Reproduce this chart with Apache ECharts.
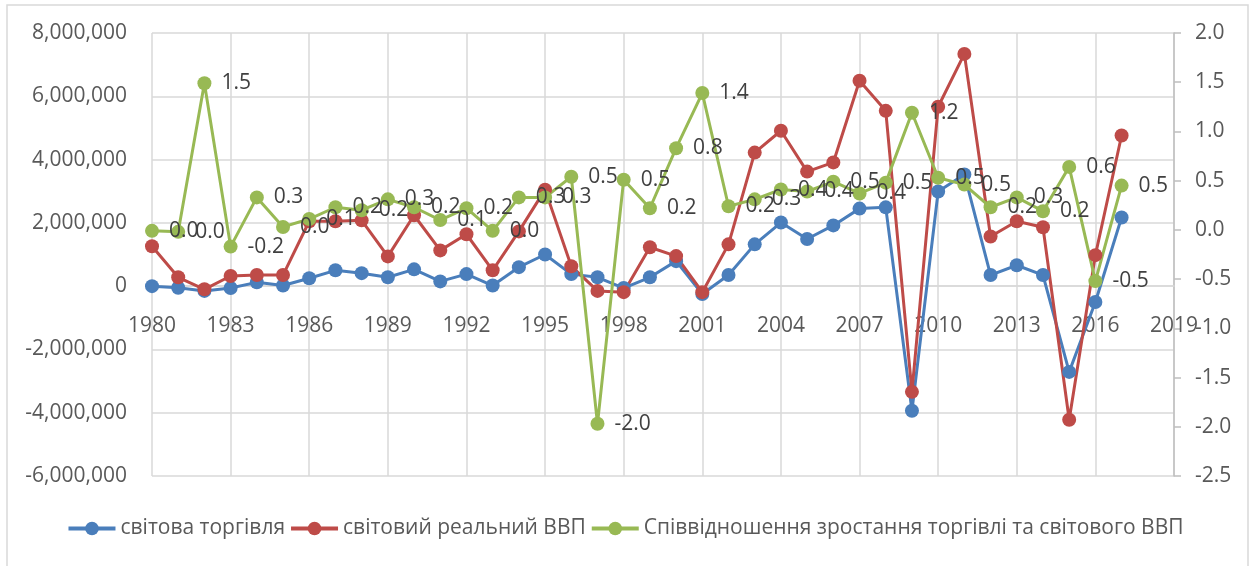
<!DOCTYPE html>
<html>
<head>
<meta charset="utf-8">
<title>chart</title>
<script src="https://cdn.jsdelivr.net/npm/echarts@6/dist/echarts.min.js"></script>
<style>
    html, body { margin: 0; padding: 0; background: #fff; }
    #chart { width: 1250px; height: 566px; }
</style>
</head>
<body>
<div id="chart"></div>
<script>
var years = [];
for (var y = 1980; y <= 2019; y++) years.push(String(y));

// світова торгівля
var trade = [0, -50000, -150000, -60000, 120000, 20000, 250000, 500000, 410000, 280000,
    530000, 150000, 380000, 20000, 600000, 1000000, 380000, 280000, -60000, 280000,
    790000, -250000, 350000, 1320000, 2010000, 1490000, 1920000, 2450000, 2490000, -3940000,
    2990000, 3530000, 350000, 660000, 350000, -2710000, -500000, 2170000];

// світовий реальний ВВП
var gdp = [1260000, 280000, -100000, 320000, 350000, 350000, 2050000, 2050000, 2080000, 940000,
    2240000, 1130000, 1640000, 500000, 1730000, 3050000, 630000, -150000, -190000, 1230000,
    950000, -190000, 1320000, 4220000, 4910000, 3620000, 3910000, 6490000, 5540000, -3340000,
    5670000, 7340000, 1570000, 2050000, 1860000, -4220000, 980000, 4760000];

// співвідношення зростання торгівлі та ВВП
var ratio = [-0.01, -0.02, 1.49, -0.17, 0.33, 0.03, 0.11, 0.23, 0.2, 0.31,
    0.23, 0.1, 0.22, -0.01, 0.33, 0.33, 0.54, -1.97, 0.51, 0.22,
    0.83, 1.39, 0.24, 0.31, 0.41, 0.39, 0.49, 0.37, 0.48, 1.19,
    0.53, 0.46, 0.23, 0.33, 0.19, 0.64, -0.52, 0.45];

var names = ['світова торгівля', 'світовий реальний ВВП', 'Співвідношення зростання торгівлі та світового ВВП'];
var colors = ['#4a7ebb', '#be4b48', '#98b954'];

var font = 'Open Sans',
    textColor = '#595959',
    gridColor = '#d9d9d9',
    gridTop = 33,
    gridBottom = 90,
    leftMin = -6000000,
    leftMax = 8000000;

var fmt1 = function (v) {
    return (Math.round(v * 10) / 10).toFixed(1);
};

var lineSeries = function (name, data, color, axis) {
    var s = {
        name: name,
        type: 'line',
        yAxisIndex: axis,
        data: data,
        symbol: 'circle',
        symbolSize: 14,
        itemStyle: {color: color},
        lineStyle: {color: color, width: 3},
        emphasis: {disabled: true},
        animation: false
    };
    if (axis == 1) {
        s.label = {
            show: true,
            position: 'right',
            distance: 10,
            fontFamily: font,
            fontSize: 21,
            color: '#404040',
            formatter: function (p) { return fmt1(p.value); }
        };
    }
    return s;
};

// the x axis sits on the zero line of the left axis
var plotHeight = 566 - gridTop - gridBottom,
    zeroOffset = -plotHeight * (0 - leftMin) / (leftMax - leftMin);

var chart = echarts.init(document.getElementById('chart'));

chart.setOption({
    color: colors,
    textStyle: {fontFamily: font},
    grid: {left: 152, right: 76, top: gridTop, bottom: gridBottom, containLabel: false},
    graphic: [{
        type: 'rect',
        shape: {x: 7, y: 5, width: 1241, height: 580},
        style: {fill: 'none', stroke: gridColor, lineWidth: 1.5},
        silent: true
    }],
    legend: {
        bottom: 22,
        left: 'center',
        itemWidth: 47,
        itemHeight: 17,
        itemGap: 4,
        lineStyle: {width: 4},
        textStyle: {fontFamily: font, fontSize: 21, color: textColor},
        data: names
    },
    xAxis: {
        type: 'category',
        data: years,
        boundaryGap: false,
        offset: zeroOffset,
        axisLine: {onZero: false, lineStyle: {color: gridColor, width: 1.5}},
        axisTick: {show: false},
        axisLabel: {interval: 2, margin: 29, fontFamily: font, fontSize: 21, color: textColor},
        splitLine: {show: true, interval: 2, lineStyle: {color: gridColor, width: 1.5}}
    },
    yAxis: [{
        type: 'value',
        min: leftMin,
        max: leftMax,
        interval: 2000000,
        axisLine: {show: false},
        axisTick: {show: false},
        axisLabel: {
            margin: 25, fontFamily: font, fontSize: 21, color: textColor,
            formatter: function (v) { return v.toLocaleString('en-US'); }
        },
        splitLine: {lineStyle: {color: gridColor, width: 1.5}}
    }, {
        type: 'value',
        min: -2.5,
        max: 2.0,
        interval: 0.5,
        position: 'right',
        axisLine: {show: true, lineStyle: {color: '#bfbfbf', width: 1.5}},
        axisTick: {show: true, inside: false, length: 7, lineStyle: {color: '#bfbfbf', width: 1.5}},
        axisLabel: {margin: 21, fontFamily: font, fontSize: 21, color: textColor, formatter: fmt1},
        splitLine: {show: false}
    }],
    series: [
        lineSeries(names[0], trade, colors[0], 0),
        lineSeries(names[1], gdp, colors[1], 0),
        lineSeries(names[2], ratio, colors[2], 1)
    ]
});
</script>
</body>
</html>
